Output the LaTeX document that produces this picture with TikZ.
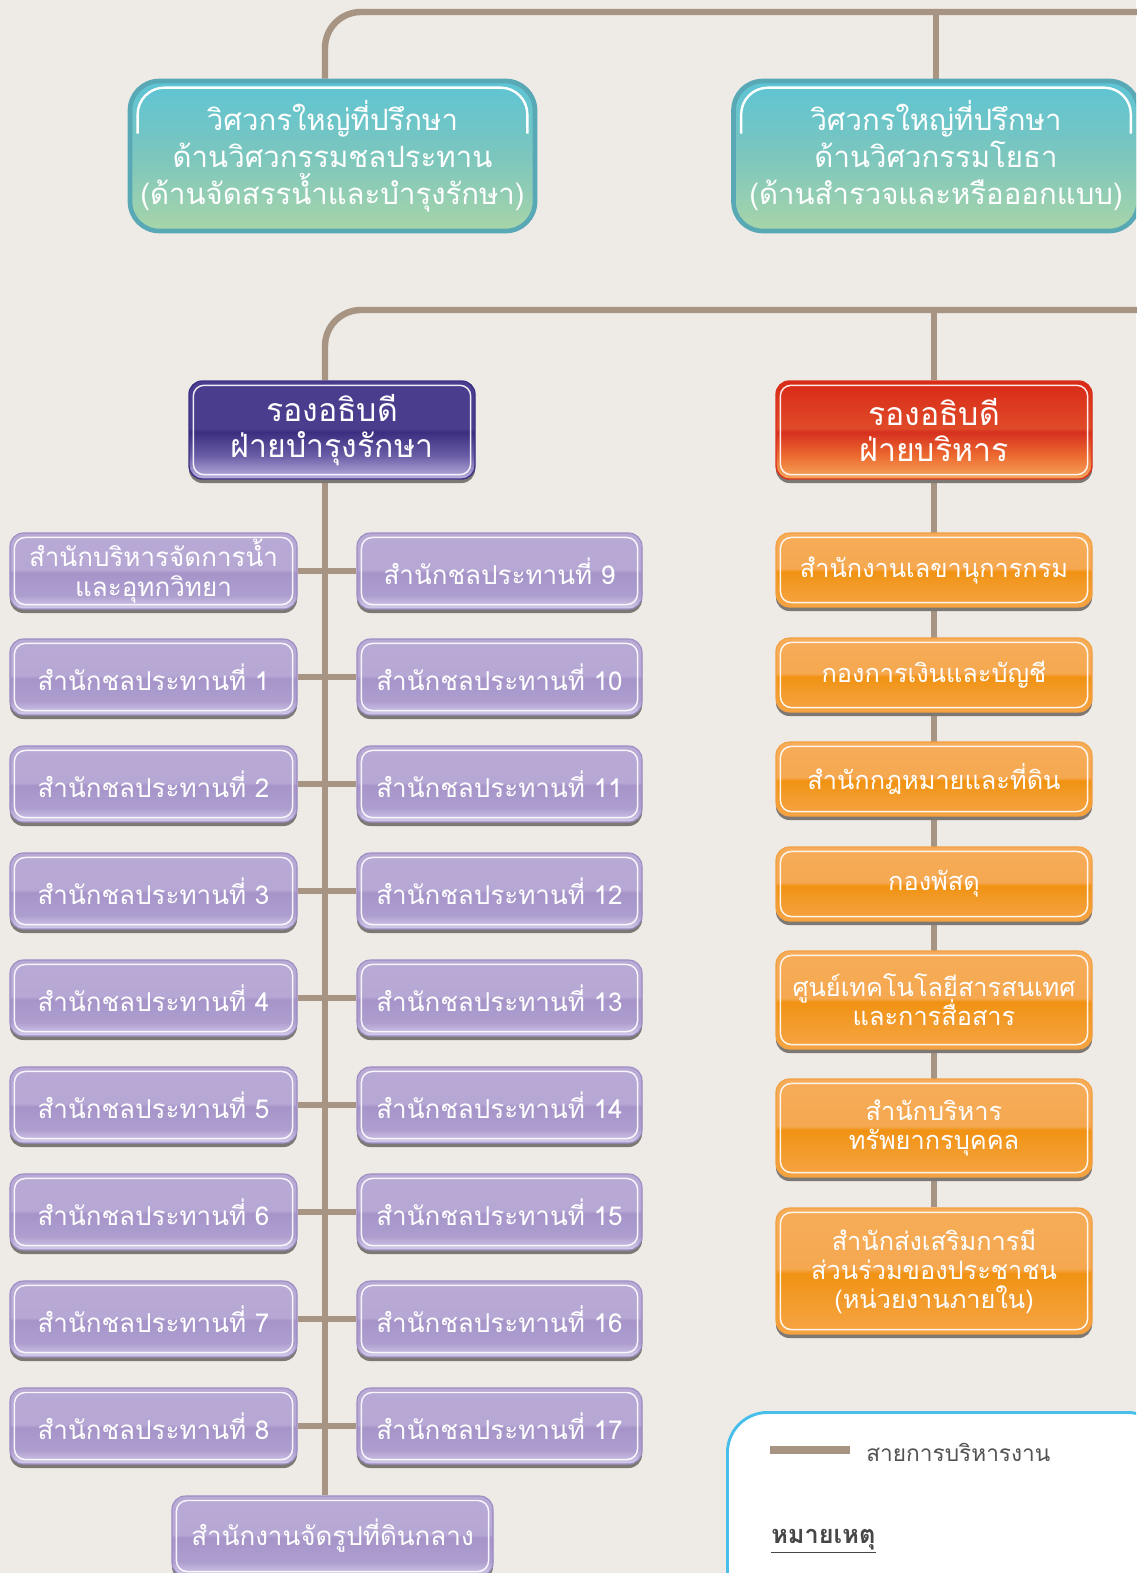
\documentclass[tikz,border=0pt]{standalone}
\usepackage{fontspec}
\newfontfamily\thai[Script=Thai]{Loma}
\usetikzlibrary{shadows}
\newcommand\setfs[2]{\fontsize{#1}{#2}\selectfont\lineskiplimit=-30pt\relax}
\definecolor{bgc}{HTML}{EEEAE5}
\definecolor{conn}{HTML}{A89482}
\definecolor{shadc}{HTML}{7D7873}
\definecolor{legblue}{HTML}{48BFEA}
% lavender
\definecolor{lavT}{HTML}{B9A9D5}
\definecolor{lavT2}{HTML}{B6A7D4}
\definecolor{lavM}{HTML}{A694C9}
\definecolor{lavM2}{HTML}{AE9ECF}
\definecolor{lavB}{HTML}{D6CDEB}
\definecolor{lavE}{HTML}{9C8CC4}
% purple header
\definecolor{puT}{HTML}{4A3D8E}
\definecolor{puM}{HTML}{3B2E80}
\definecolor{puM2}{HTML}{6A5DA6}
\definecolor{puB}{HTML}{BEB2E0}
\definecolor{puE}{HTML}{3C3082}
% red header
\definecolor{reT}{HTML}{D82A17}
\definecolor{reT2}{HTML}{E04A28}
\definecolor{reM}{HTML}{D6301F}
\definecolor{reM2}{HTML}{EC6A30}
\definecolor{reB}{HTML}{F6A85C}
\definecolor{reE}{HTML}{D8301C}
% orange
\definecolor{orT}{HTML}{F6AC58}
\definecolor{orT2}{HTML}{F5A850}
\definecolor{orM}{HTML}{F19212}
\definecolor{orM2}{HTML}{F29A28}
\definecolor{orB}{HTML}{F6A444}
\definecolor{orE}{HTML}{F2A040}
% teal
\definecolor{teT}{HTML}{5DC4D4}
\definecolor{teM}{HTML}{7CC6BE}
\definecolor{teB}{HTML}{A8D5A8}
\definecolor{teE}{HTML}{58A8B6}
\pgfdeclareverticalshading{lavsh}{100bp}{color(0bp)=(lavB); color(25bp)=(lavB); color(34bp)=(lavM2); color(49bp)=(lavM); color(51bp)=(lavT2); color(75bp)=(lavT); color(100bp)=(lavT)}
\pgfdeclareverticalshading{pursh}{100bp}{color(0bp)=(puB); color(25bp)=(puB); color(37bp)=(puM2); color(49bp)=(puM); color(51bp)=(puT); color(75bp)=(puT); color(100bp)=(puT)}
\pgfdeclareverticalshading{redsh}{100bp}{color(0bp)=(reB); color(25bp)=(reB); color(37bp)=(reM2); color(49bp)=(reM); color(51bp)=(reT2); color(75bp)=(reT); color(100bp)=(reT)}
\pgfdeclareverticalshading{orash}{100bp}{color(0bp)=(orB); color(25bp)=(orB); color(40bp)=(orM2); color(49bp)=(orM); color(51bp)=(orT2); color(75bp)=(orT); color(100bp)=(orT)}
\pgfdeclareverticalshading{tealsh}{100bp}{color(0bp)=(teB); color(25bp)=(teB); color(50bp)=(teM); color(75bp)=(teT); color(100bp)=(teT)}
\pgfdeclarelayer{back}
\pgfsetlayers{back,main}
\tikzset{
  wh/.style 2 args={minimum width=#1*0.75pt, minimum height=#2*0.75pt},
  basebox/.style={rounded corners=10pt, inner sep=0pt, align=center, text=white,
    drop shadow={shadow xshift=0pt, shadow yshift=-3pt, fill=shadc, opacity=1}},
  lavbox/.style={basebox, shading=lavsh, draw=lavE, line width=0.8pt,
    font=\thai\setfs{19.5}{22.5}},
  orabox/.style={basebox, shading=orash, draw=orE, line width=0.8pt,
    font=\thai\setfs{19}{21.75}},
  purbox/.style={basebox, shading=pursh, draw=puE, line width=1pt,
    font=\thai\setfs{24}{27}},
  redbox/.style={basebox, shading=redsh, draw=reE, line width=1pt,
    font=\thai\setfs{24}{27}},
  tealbox/.style={rounded corners=22pt, inner sep=0pt, align=center, text=white,
    shading=tealsh, draw=teE, line width=3.5pt, font=\thai\setfs{22}{27.75}},
  conn/.style={draw=conn, line width=4.8pt},
  hl/.style={draw=white, line width=1.1pt, rounded corners=8pt, opacity=0.9},
}
\begin{document}
\begin{tikzpicture}[x=0.75pt,y=-0.75pt]
\useasboundingbox (0,0) rectangle (1136,1573);
\clip (0,0) rectangle (1136,1573);

% top advisors
\node[tealbox, wh={405}{150}] (adv1) at (332.5,156) {วิศวกรใหญ่ที่ปรึกษา\\ด้านวิศวกรรมชลประทาน\\(ด้านจัดสรรน้ำและบำรุงรักษา)};
\node[tealbox, wh={405}{150}] (adv2) at (936,156) {วิศวกรใหญ่ที่ปรึกษา\\ด้านวิศวกรรมโยธา\\(ด้านสำรวจและหรือออกแบบ)};

% deputy directors
\node[purbox, wh={286}{98}] (vpm) at (332,430) {รองอธิบดี\\ฝ่ายบำรุงรักษา};
\node[redbox, wh={316}{98}] (vpa) at (934,430) {รองอธิบดี\\ฝ่ายบริหาร};

% left column
\node[lavbox, wh={287}{76}] (L0) at (153.5,571) {สำนักบริหารจัดการน้ำ\\และอุทกวิทยา};
\node[lavbox, wh={287}{76}] (L1) at (153.5,677) {สำนักชลประทานที่ 1};
\node[lavbox, wh={287}{76}] (L2) at (153.5,784) {สำนักชลประทานที่ 2};
\node[lavbox, wh={287}{76}] (L3) at (153.5,891) {สำนักชลประทานที่ 3};
\node[lavbox, wh={287}{76}] (L4) at (153.5,998) {สำนักชลประทานที่ 4};
\node[lavbox, wh={287}{76}] (L5) at (153.5,1105) {สำนักชลประทานที่ 5};
\node[lavbox, wh={287}{76}] (L6) at (153.5,1212) {สำนักชลประทานที่ 6};
\node[lavbox, wh={287}{76}] (L7) at (153.5,1319) {สำนักชลประทานที่ 7};
\node[lavbox, wh={287}{76}] (L8) at (153.5,1426) {สำนักชลประทานที่ 8};
% right column
\node[lavbox, wh={285}{76}] (R9) at (499.5,571) {สำนักชลประทานที่ 9};
\node[lavbox, wh={285}{76}] (R10) at (499.5,677) {สำนักชลประทานที่ 10};
\node[lavbox, wh={285}{76}] (R11) at (499.5,784) {สำนักชลประทานที่ 11};
\node[lavbox, wh={285}{76}] (R12) at (499.5,891) {สำนักชลประทานที่ 12};
\node[lavbox, wh={285}{76}] (R13) at (499.5,998) {สำนักชลประทานที่ 13};
\node[lavbox, wh={285}{76}] (R14) at (499.5,1105) {สำนักชลประทานที่ 14};
\node[lavbox, wh={285}{76}] (R15) at (499.5,1212) {สำนักชลประทานที่ 15};
\node[lavbox, wh={285}{76}] (R16) at (499.5,1319) {สำนักชลประทานที่ 16};
\node[lavbox, wh={285}{76}] (R17) at (499.5,1426) {สำนักชลประทานที่ 17};
% bottom
\node[lavbox, wh={321}{80}] (land) at (332.5,1536) {สำนักงานจัดรูปที่ดินกลาง};

% orange column
\node[orabox, wh={316}{74}] (o1) at (934,570) {สำนักงานเลขานุการกรม};
\node[orabox, wh={316}{74}] (o2) at (934,675) {กองการเงินและบัญชี};
\node[orabox, wh={316}{74}] (o3) at (934,779) {สำนักกฎหมายและที่ดิน};
\node[orabox, wh={316}{74}] (o4) at (934,884) {กองพัสดุ};
\node[orabox, wh={316}{98}] (o5) at (934,1000) {ศูนย์เทคโนโลยีสารสนเทศ\\และการสื่อสาร};
\node[orabox, wh={316}{98}] (o6) at (934,1128) {สำนักบริหาร\\ทรัพยากรบุคคล};
\node[orabox, wh={316}{126}] (o7) at (934,1271) {สำนักส่งเสริมการมี\\ส่วนร่วมของประชาชน\\(หน่วยงานภายใน)};

% highlights
\foreach \n in {L0,L1,L2,L3,L4,L5,L6,L7,L8,R9,R10,R11,R12,R13,R14,R15,R16,R17,land,o1,o2,o3,o4,o5,o6,o7,vpm,vpa}
  \draw[hl] ([shift={(5,-5)}]\n.south west) rectangle ([shift={(-5,5)}]\n.north east);
\foreach \n in {adv1,adv2}
  \draw[draw=white, line width=1.8pt, rounded corners=20pt]
    ([shift={(10,55)}]\n.north west) -- ([shift={(10,9)}]\n.north west)
    -- ([shift={(-10,9)}]\n.north east) -- ([shift={(-10,55)}]\n.north east);

% legend
\node[draw=legblue, line width=2.2pt, fill=white, rounded corners=30pt,
  minimum width=440*0.75pt, minimum height=200*0.75pt, anchor=north west, inner sep=0pt] (leg) at (726,1411) {};
\coordinate (lgA) at (770,1450);
\coordinate (lgB) at (850,1450);
\draw[draw=conn, line width=6pt] (lgA) -- (lgB);
\node[anchor=west, text=black!68, font=\thai\setfs{17}{20}, inner sep=0pt] (legtxt) at (866,1452) {สายการบริหารงาน};
\node[anchor=west, text=black!72, font=\thai\bfseries\setfs{19}{22}, inner sep=0pt] (note) at (771,1541) {\underline{หมายเหตุ}};

% connectors
\begin{pgfonlayer}{back}
\fill[bgc] (0,0) rectangle (1136,1573);
\coordinate (tx) at (325,0);
\coordinate (ytop) at (0,12);
\coordinate (ymid) at (0,310);
\coordinate (e1) at (1160,12);
\coordinate (e2) at (1160,310);
\draw[conn, rounded corners=36pt*0.75] (adv1.north -| tx) -- (tx |- ytop) -- (e1);
\draw[conn] (adv2.north) -- (adv2.north |- ytop);
\draw[conn, rounded corners=36pt*0.75] (vpm.north -| tx) -- (tx |- ymid) -- (e2);
\draw[conn] (vpa.north) -- (vpa.north |- ymid);
\draw[conn] (vpm.south -| tx) -- (land.north -| tx);
\foreach \l/\r in {L0/R9,L1/R10,L2/R11,L3/R12,L4/R13,L5/R14,L6/R15,L7/R16,L8/R17}
  \draw[conn] (\l.east) -- (\r.west);
\draw[conn] (vpa.south) -- (o7.north);
\end{pgfonlayer}
\end{tikzpicture}
\end{document}
